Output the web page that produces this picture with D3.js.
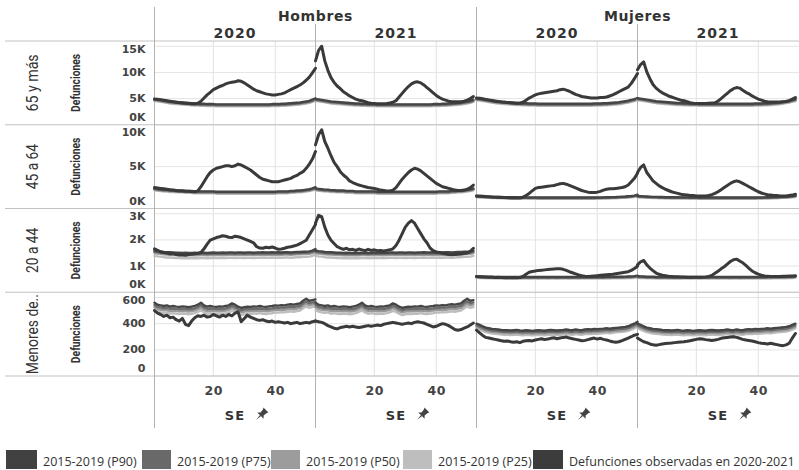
<!DOCTYPE html>
<html><head><meta charset="utf-8">
<script src="https://cdn.jsdelivr.net/npm/d3@7"></script>
<style>body{margin:0;background:#fff}svg{display:block}</style>
</head><body><svg id="c" width="799" height="470"></svg>
<script>
// ---------- categories & labels ----------
const sexes = ["Hombres","Mujeres"];
const years = ["2020","2021"];
const ageGroups = ["65 y más","45 a 64","20 a 44","Menores de.."];
const yTicks = [[0,5000,10000,15000],[0,5000,10000],[0,1000,2000,3000],[0,200,400,600]];
const yTickLabels = [["0K","5K","10K","15K"],["0K","5K","10K"],["0K","1K","2K","3K"],["0","200","400","600"]];
const xTicks = [20,40];
const legendLabels = ["2015-2019 (P90)","2015-2019 (P75)","2015-2019 (P50)","2015-2019 (P25)","Defunciones observadas en 2020-2021"];

// ---------- Hombres 65 y más ----------
const obs_H65_2020 = [4900,4850,4800,4700,4600,4500,4400,4300,4200,4150,4100,4050,4000,4000,4100,4500,5100,5700,6200,6700,7000,7300,7500,7800,8000,8100,8200,8400,8300,8000,7600,7200,6800,6500,6300,6100,5900,5800,5700,5700,5800,5900,6100,6400,6700,7000,7300,7600,8000,8500,9100,9900,10800];
const obs_H65_2021 = [12200,14200,15000,12200,10400,9000,8100,7400,6900,6300,5900,5500,5200,4900,4700,4600,4400,4200,4100,4050,4000,4000,4000,4050,4150,4300,4600,5300,6000,6700,7300,7800,8100,8200,8000,7600,7100,6600,6100,5600,5200,4900,4700,4500,4400,4400,4400,4400,4500,4700,5000,5400];
const p90_H65 = [4900,4850,4750,4650,4550,4450,4400,4350,4300,4250,4200,4150,4100,4050,4050,4000,4000,3950,3950,3950,3900,3900,3900,3900,3900,3900,3900,3900,3900,3900,3900,3900,3900,3900,3900,3900,3900,3900,3950,3950,3950,4000,4000,4050,4100,4150,4200,4250,4350,4450,4550,4800,5050];
const p75_H65 = [4770,4720,4620,4520,4420,4320,4270,4220,4170,4120,4070,4020,3970,3920,3920,3870,3870,3820,3820,3820,3770,3770,3770,3770,3770,3770,3770,3770,3770,3770,3770,3770,3770,3770,3770,3770,3770,3770,3820,3820,3820,3870,3870,3920,3970,4020,4070,4120,4220,4320,4420,4620,4850];
const p50_H65 = [4650,4600,4500,4400,4300,4200,4150,4100,4050,4000,3950,3900,3850,3800,3800,3750,3750,3700,3700,3700,3650,3650,3650,3650,3650,3650,3650,3650,3650,3650,3650,3650,3650,3650,3650,3650,3650,3650,3700,3700,3700,3750,3750,3800,3850,3900,3950,4000,4100,4200,4300,4500,4700];
const p25_H65 = [4520,4470,4370,4270,4170,4070,4020,3970,3920,3870,3820,3770,3720,3670,3670,3620,3620,3570,3570,3570,3520,3520,3520,3520,3520,3520,3520,3520,3520,3520,3520,3520,3520,3520,3520,3520,3520,3520,3570,3570,3570,3620,3620,3670,3720,3770,3820,3870,3970,4070,4170,4370,4570];

// ---------- Mujeres 65 y más ----------
const obs_M65_2020 = [5100,5050,4950,4850,4750,4650,4550,4450,4350,4300,4250,4200,4150,4100,4100,4300,4700,5100,5400,5700,5900,6000,6100,6200,6300,6400,6500,6700,6800,6600,6400,6100,5800,5600,5400,5300,5200,5100,5100,5100,5200,5200,5300,5500,5700,6000,6300,6600,6900,7200,7900,8800,9800];
const obs_M65_2021 = [10500,11500,12000,10100,8800,7700,7000,6500,6100,5800,5500,5300,5100,4900,4700,4600,4400,4200,4100,4050,4050,4050,4050,4100,4150,4200,4500,5000,5500,6000,6500,6900,7100,7000,6600,6200,5900,5500,5200,4900,4700,4500,4400,4350,4350,4350,4350,4400,4450,4600,4900,5200];
const p90_M65 = [5050,5000,4900,4800,4700,4600,4500,4450,4400,4350,4300,4250,4200,4150,4150,4100,4100,4050,4050,4050,4000,4000,4000,4000,4000,4000,4000,4000,4000,4000,4000,4000,4000,4000,4000,4000,4000,4000,4050,4050,4050,4100,4100,4150,4200,4250,4300,4400,4500,4600,4750,4900,5100];
const p75_M65 = [4920,4870,4770,4670,4570,4470,4370,4320,4270,4220,4170,4120,4070,4020,4020,3970,3970,3920,3920,3920,3870,3870,3870,3870,3870,3870,3870,3870,3870,3870,3870,3870,3870,3870,3870,3870,3870,3870,3920,3920,3920,3970,3970,4020,4070,4120,4170,4270,4370,4470,4620,4770,4970];
const p50_M65 = [4800,4750,4650,4550,4450,4350,4250,4200,4150,4100,4050,4000,3950,3900,3900,3850,3850,3800,3800,3800,3750,3750,3750,3750,3750,3750,3750,3750,3750,3750,3750,3750,3750,3750,3750,3750,3750,3750,3800,3800,3800,3850,3850,3900,3950,4000,4050,4150,4250,4350,4500,4650,4850];
const p25_M65 = [4670,4620,4520,4420,4320,4220,4120,4070,4020,3970,3920,3870,3820,3770,3770,3720,3720,3670,3670,3670,3620,3620,3620,3620,3620,3620,3620,3620,3620,3620,3620,3620,3620,3620,3620,3620,3620,3620,3670,3670,3670,3720,3720,3770,3820,3870,3920,4020,4120,4220,4370,4520,4720];

// ---------- Hombres 45 a 64 ----------
const obs_H45_2020 = [2500,2450,2400,2350,2300,2250,2200,2150,2100,2100,2050,2050,2000,2000,2100,2600,3200,3800,4300,4600,4800,4900,5000,5100,5100,5000,5100,5300,5200,5000,4800,4600,4300,4000,3700,3500,3400,3300,3200,3200,3200,3300,3400,3500,3600,3800,3950,4200,4400,4800,5300,5900,6800];
const obs_H45_2021 = [7600,8800,9400,8000,7200,6300,5500,5000,4400,4000,3700,3300,3100,2950,2800,2700,2600,2500,2450,2400,2300,2200,2150,2100,2100,2200,2500,3000,3500,3900,4300,4600,4800,4700,4500,4200,3900,3600,3300,3000,2800,2600,2500,2400,2300,2200,2150,2150,2200,2300,2500,2800];
const p90_H45 = [2400,2350,2300,2250,2250,2200,2200,2150,2150,2150,2100,2100,2100,2050,2050,2050,2050,2050,2050,2050,2000,2000,2000,2000,2000,2000,2000,2000,2000,2000,2000,2000,2000,2000,2000,2000,2000,2000,2000,2000,2050,2050,2050,2050,2100,2100,2150,2150,2200,2250,2300,2400,2550];
const p75_H45 = [2320,2270,2220,2170,2170,2120,2120,2070,2070,2070,2020,2020,2020,1970,1970,1970,1970,1970,1970,1970,1920,1920,1920,1920,1920,1920,1920,1920,1920,1920,1920,1920,1920,1920,1920,1920,1920,1920,1920,1920,1970,1970,1970,1970,2020,2020,2070,2070,2120,2170,2220,2320,2470];
const p50_H45 = [2250,2200,2150,2100,2100,2050,2050,2000,2000,2000,1950,1950,1950,1900,1900,1900,1900,1900,1900,1900,1850,1850,1850,1850,1850,1850,1850,1850,1850,1850,1850,1850,1850,1850,1850,1850,1850,1850,1850,1850,1900,1900,1900,1900,1950,1950,2000,2000,2050,2100,2150,2250,2400];
const p25_H45 = [2170,2120,2070,2020,2020,1970,1970,1920,1920,1920,1870,1870,1870,1820,1820,1820,1820,1820,1820,1820,1770,1770,1770,1770,1770,1770,1770,1770,1770,1770,1770,1770,1770,1770,1770,1770,1770,1770,1770,1770,1820,1820,1820,1820,1870,1870,1920,1920,1970,2020,2070,2170,2320];

// ---------- Mujeres 45 a 64 ----------
const obs_M45_2020 = [1500,1480,1450,1420,1400,1380,1350,1330,1300,1300,1280,1260,1250,1250,1250,1350,1550,1800,2100,2400,2500,2550,2600,2650,2700,2750,2850,2950,3000,2900,2750,2600,2450,2300,2150,2050,1950,1900,1900,1950,2050,2200,2300,2350,2350,2400,2450,2500,2600,2800,3200,3600,4200];
const obs_M45_2021 = [4300,4900,5200,4300,3800,3300,3000,2700,2500,2300,2150,2000,1900,1800,1700,1650,1600,1550,1550,1500,1500,1500,1500,1550,1650,1800,2000,2250,2500,2750,3000,3200,3300,3200,3000,2800,2600,2400,2200,2000,1850,1750,1650,1600,1550,1550,1500,1500,1500,1550,1600,1700];
const p90_M45 = [1490,1470,1450,1430,1410,1390,1390,1370,1370,1350,1350,1340,1340,1340,1330,1330,1330,1320,1320,1320,1310,1310,1310,1310,1310,1310,1310,1310,1310,1310,1310,1310,1310,1310,1310,1310,1310,1310,1310,1320,1320,1330,1340,1350,1360,1370,1390,1410,1430,1460,1490,1540,1640];
const p75_M45 = [1440,1420,1400,1380,1360,1340,1340,1320,1320,1300,1300,1290,1290,1290,1280,1280,1280,1270,1270,1270,1260,1260,1260,1260,1260,1260,1260,1260,1260,1260,1260,1260,1260,1260,1260,1260,1260,1260,1260,1270,1270,1280,1290,1300,1310,1320,1340,1360,1380,1410,1440,1490,1590];
const p50_M45 = [1400,1380,1360,1340,1320,1300,1300,1280,1280,1260,1260,1250,1250,1250,1240,1240,1240,1230,1230,1230,1220,1220,1220,1220,1220,1220,1220,1220,1220,1220,1220,1220,1220,1220,1220,1220,1220,1220,1220,1230,1230,1240,1250,1260,1270,1280,1300,1320,1340,1370,1400,1450,1550];
const p25_M45 = [1350,1330,1310,1290,1270,1250,1250,1230,1230,1210,1210,1200,1200,1200,1190,1190,1190,1180,1180,1180,1170,1170,1170,1170,1170,1170,1170,1170,1170,1170,1170,1170,1170,1170,1170,1170,1170,1170,1170,1180,1180,1190,1200,1210,1220,1230,1250,1270,1290,1320,1350,1400,1500];

// ---------- Hombres 20 a 44 ----------
const obs_H20_2020 = [1660,1600,1540,1520,1500,1460,1480,1440,1420,1430,1410,1440,1450,1470,1490,1520,1660,1840,1990,2040,2090,2120,2160,2140,2100,2090,2140,2120,2090,2040,1990,1940,1890,1740,1690,1680,1720,1700,1730,1690,1640,1650,1680,1720,1740,1770,1800,1860,1920,1990,2190,2390,2590];
const obs_H20_2021 = [2640,2940,2890,2490,2190,1990,1860,1740,1690,1640,1680,1620,1640,1600,1650,1620,1590,1640,1600,1620,1590,1600,1580,1600,1620,1660,1790,1990,2240,2490,2640,2740,2640,2440,2240,2040,1890,1690,1590,1540,1520,1490,1460,1440,1430,1440,1450,1460,1480,1500,1560,1680];
const p90_H20 = [1590,1570,1560,1540,1530,1530,1520,1510,1510,1500,1510,1500,1500,1510,1500,1510,1510,1500,1510,1520,1510,1510,1520,1510,1520,1520,1510,1520,1520,1510,1520,1520,1510,1520,1520,1530,1520,1520,1530,1520,1530,1520,1530,1530,1520,1530,1540,1540,1550,1550,1560,1590,1650];
const p75_H20 = [1545,1525,1515,1495,1485,1485,1475,1465,1465,1455,1465,1455,1455,1465,1455,1465,1465,1455,1465,1475,1465,1465,1475,1465,1475,1475,1465,1475,1475,1465,1475,1475,1465,1475,1475,1485,1475,1475,1485,1475,1485,1475,1485,1485,1475,1485,1495,1495,1505,1505,1515,1545,1605];
const p50_H20 = [1500,1480,1470,1450,1440,1440,1430,1420,1420,1410,1420,1410,1410,1420,1410,1420,1420,1410,1420,1430,1420,1420,1430,1420,1430,1430,1420,1430,1430,1420,1430,1430,1420,1430,1430,1440,1430,1430,1440,1430,1440,1430,1440,1440,1430,1440,1450,1450,1460,1460,1470,1500,1560];
const p25_H20 = [1390,1370,1360,1340,1330,1330,1320,1310,1310,1300,1310,1300,1300,1310,1300,1310,1310,1300,1310,1320,1310,1310,1320,1310,1320,1320,1310,1320,1320,1310,1320,1320,1310,1320,1320,1330,1320,1320,1330,1320,1330,1320,1330,1330,1320,1330,1340,1340,1350,1350,1360,1390,1450];

// ---------- Mujeres 20 a 44 ----------
const obs_M20_2020 = [600,590,580,585,575,575,565,570,565,555,560,555,565,555,565,600,690,765,795,815,835,845,855,865,875,885,895,895,875,835,785,745,705,665,635,615,605,615,625,635,645,655,665,675,685,705,725,745,765,785,835,905,995];
const obs_M20_2021 = [1045,1165,1215,1045,925,825,735,685,655,635,615,605,595,595,585,585,575,575,575,575,575,575,585,605,645,725,805,895,975,1075,1175,1245,1265,1195,1125,1025,915,815,745,695,655,625,615,605,605,605,605,615,615,625,625,635];
const p90_M20 = [610,605,600,595,590,590,585,585,583,585,580,583,580,585,580,583,585,580,583,585,580,585,583,580,585,583,580,585,583,585,580,583,585,580,583,585,583,585,587,585,587,585,590,587,590,590,593,595,597,600,605,615,635];
const p75_M20 = [590,585,580,575,570,570,565,565,563,565,560,563,560,565,560,563,565,560,563,565,560,565,563,560,565,563,560,565,563,565,560,563,565,560,563,565,563,565,567,565,567,565,570,567,570,570,573,575,577,580,585,595,615];
const p50_M20 = [575,570,565,560,555,555,550,550,548,550,545,548,545,550,545,548,550,545,548,550,545,550,548,545,550,548,545,550,548,550,545,548,550,545,548,550,548,550,552,550,552,550,555,552,555,555,558,560,562,565,570,580,600];
const p25_M20 = [550,545,540,535,530,530,525,525,523,525,520,523,520,525,520,523,525,520,523,525,520,525,523,520,525,523,520,525,523,525,520,523,525,520,523,525,523,525,527,525,527,525,530,527,530,530,533,535,537,540,545,555,575];

// ---------- Hombres menores de 20 ----------
const obs_H0_2020 = [500,480,470,455,465,445,450,430,420,440,395,385,420,445,460,455,465,450,455,470,460,450,465,455,470,460,480,490,415,440,465,450,440,430,425,430,420,415,420,410,415,410,405,410,400,405,410,400,405,410,405,415,420];
const obs_H0_2021 = [420,415,410,400,385,375,365,360,370,375,380,375,380,375,370,375,380,385,380,385,390,385,395,400,405,410,405,400,395,400,405,400,410,415,410,405,395,385,375,380,390,400,395,385,370,355,350,355,365,375,390,405];
const p90_H0 = [560,545,540,535,540,530,535,530,528,532,530,525,530,535,545,560,540,530,535,530,528,532,530,535,540,555,545,530,520,525,530,528,532,530,535,530,528,532,535,540,538,542,540,545,548,545,550,555,575,590,575,580,585];
const p75_H0 = [542,528,522,518,520,514,516,512,510,514,512,508,512,516,526,540,522,512,516,512,510,514,512,516,522,536,526,512,502,508,512,510,514,512,516,512,510,514,516,520,520,524,522,526,530,526,532,536,556,570,556,562,566];
const p50_H0 = [526,512,506,502,506,496,500,496,494,498,496,492,496,500,510,522,506,496,500,496,494,498,496,500,506,518,510,496,486,492,496,494,498,496,500,496,494,498,500,504,504,508,506,510,514,510,516,520,538,552,540,546,550];
const p25_H0 = [506,492,486,482,486,476,480,476,474,478,476,472,476,480,490,502,486,476,480,476,474,478,476,480,486,498,490,476,466,472,476,474,478,476,480,476,474,478,480,484,484,488,486,490,494,490,496,500,518,532,520,526,530];

// ---------- Mujeres menores de 20 ----------
const obs_M0_2020 = [350,330,310,295,290,285,280,275,270,265,268,262,258,262,255,265,270,272,268,275,280,285,278,282,288,292,285,290,295,298,290,285,280,275,270,272,278,285,290,282,288,280,275,268,262,258,262,270,280,290,300,312,318];
const obs_M0_2021 = [290,275,262,255,245,238,235,240,245,248,250,252,255,258,260,262,265,270,275,280,285,282,278,275,272,275,280,288,292,295,298,300,295,288,280,275,272,268,262,255,250,248,245,250,245,240,235,232,238,250,290,325];
const p90_M0 = [400,390,380,370,365,360,358,355,352,350,350,348,350,352,348,346,350,348,345,348,350,348,346,350,352,350,348,350,352,355,352,350,355,352,350,355,358,355,360,358,360,362,365,362,365,368,370,372,375,380,390,400,415];
const p75_M0 = [388,378,368,358,353,348,346,343,340,338,338,336,338,340,336,334,338,336,333,336,338,336,334,338,340,338,336,338,340,343,340,338,343,340,338,343,346,343,348,346,348,350,353,350,353,356,358,360,363,368,378,388,403];
const p50_M0 = [378,368,358,348,343,338,336,333,330,328,328,326,328,330,326,324,328,326,323,326,328,326,324,328,330,328,326,328,330,333,330,328,333,330,328,333,336,333,338,336,338,340,343,340,343,346,348,350,353,358,368,378,393];
const p25_M0 = [365,355,345,335,330,325,323,320,317,315,315,313,315,317,313,311,315,313,310,313,315,313,311,315,317,315,313,315,317,320,317,315,320,317,315,320,323,320,325,323,325,327,330,327,330,333,335,337,340,345,355,365,380];

// ---------- assembly ----------
const panels = [
  [{obs:[obs_H65_2020,obs_H65_2021],pct:[p90_H65,p75_H65,p50_H65,p25_H65]},
   {obs:[obs_M65_2020,obs_M65_2021],pct:[p90_M65,p75_M65,p50_M65,p25_M65]}],
  [{obs:[obs_H45_2020,obs_H45_2021],pct:[p90_H45,p75_H45,p50_H45,p25_H45]},
   {obs:[obs_M45_2020,obs_M45_2021],pct:[p90_M45,p75_M45,p50_M45,p25_M45]}],
  [{obs:[obs_H20_2020,obs_H20_2021],pct:[p90_H20,p75_H20,p50_H20,p25_H20]},
   {obs:[obs_M20_2020,obs_M20_2021],pct:[p90_M20,p75_M20,p50_M20,p25_M20]}],
  [{obs:[obs_H0_2020,obs_H0_2021],pct:[p90_H0,p75_H0,p50_H0,p25_H0]},
   {obs:[obs_M0_2020,obs_M0_2021],pct:[p90_M0,p75_M0,p50_M0,p25_M0]}]
];

// ---------- layout / style ----------
const svg = d3.select("#c");
const LEFT = 154.5, PANE_W = 161, TOP = 41, ROW_H = 83.75;
const yMax = [16000,10000,3200,640];
const pctColors = ["#454545","#6c6c6c","#9a9a9a","#bdbdbd"];
const obsColor = "#3a3a3a";
const legendColors = ["#414141","#696969","#9c9c9c","#bebebe","#3c3c3c"];
const headFont = "'DejaVu Sans', Verdana, sans-serif";
const narrowFont = "Roboto, 'Noto Sans', sans-serif";
const legFont = "'Open Sans','Noto Sans',sans-serif";
const rowLabelLen = [57,45,45,80];
const nPanes = 4;
const bottomY = TOP + ROW_H*4;

const x = d3.scaleLinear().domain([1,53]).range([0, PANE_W]);
const yScales = yMax.map((m,r)=> d3.scaleLinear().domain([0,m]).range([TOP+ROW_H*(r+1), TOP+ROW_H*r]));

// grid lines
const grid = svg.append("g");
yScales.forEach((y,r)=>{
  yTicks[r].forEach(t=>{
    grid.append("line").attr("x1",LEFT).attr("x2",799).attr("y1",y(t)).attr("y2",y(t))
      .attr("stroke","#e4e4e4").attr("stroke-width",1);
  });
});
for(let p=0;p<nPanes;p++){
  xTicks.forEach(t=>{
    const xx = LEFT + p*PANE_W + x(t);
    grid.append("line").attr("x1",xx).attr("x2",xx).attr("y1",TOP).attr("y2",bottomY)
      .attr("stroke","#e2e2e2").attr("stroke-width",1);
  });
}

// row borders
for(let r=0;r<=4;r++){
  const yy = TOP + ROW_H*r;
  svg.append("line").attr("x1",5).attr("x2",799).attr("y1",yy).attr("y2",yy)
    .attr("stroke","#c2c2c2").attr("stroke-width",1);
}
// pane dividers
for(let p=0;p<nPanes;p++){
  const xx = LEFT + p*PANE_W;
  svg.append("line").attr("x1",xx).attr("x2",xx).attr("y1", p%2===0?7:24).attr("y2",428)
    .attr("stroke","#b2b2b2").attr("stroke-width",1);
}

// lines
const linesG = svg.append("g");
panels.forEach((rowPanels,r)=>{
  const y = yScales[r];
  const line = d3.line().x((d,i)=>x(i+1)).y(d=>y(d)).curve(d3.curveLinear);
  rowPanels.forEach((pan,s)=>{
    years.forEach((yr,yi)=>{
      const p = s*2+yi;
      const g = linesG.append("g").attr("transform",`translate(${LEFT+p*PANE_W},0)`);
      const n = pan.obs[yi].length;
      for(let k=3;k>=0;k--){
        g.append("path").datum(pan.pct[k].slice(0,n)).attr("d",line)
          .attr("fill","none").attr("stroke",pctColors[k]).attr("stroke-width",2.4)
          .attr("stroke-linejoin","round").attr("stroke-linecap","round");
      }
      g.append("path").datum(pan.obs[yi]).attr("d",line)
        .attr("fill","none").attr("stroke",obsColor).attr("stroke-width",3)
        .attr("stroke-linejoin","round").attr("stroke-linecap","round");
    });
  });
});

// y axes
yScales.forEach((y,r)=>{
  const g = svg.append("g").attr("transform",`translate(${LEFT},0)`)
    .call(d3.axisLeft(y).tickValues(yTicks[r]).tickFormat((d,i)=>yTickLabels[r][i]).tickSize(0).tickPadding(9));
  g.select(".domain").remove();
  const rt = TOP+ROW_H*r, rb = TOP+ROW_H*(r+1);
  g.selectAll(".tick").attr("transform", d=>`translate(0,${Math.max(rt+8, Math.min(rb-7.5, y(d)))})`);
  g.selectAll("text").attr("font-family",headFont).attr("font-weight","bold")
    .attr("font-size",11).attr("fill","#444");
  const cy = (rt+rb)/2;
  svg.append("text").attr("transform",`translate(80,${cy}) rotate(-90)`)
    .attr("text-anchor","middle").attr("font-family",narrowFont).attr("font-weight","bold")
    .attr("font-size",12).attr("fill","#333")
    .attr("textLength",58).attr("lengthAdjust","spacingAndGlyphs").text("Defunciones");
  svg.append("text").attr("transform",`translate(37.5,${cy}) rotate(-90)`)
    .attr("text-anchor","middle").attr("font-family",narrowFont).attr("font-weight",400)
    .attr("font-size",17).attr("fill","#333")
    .attr("textLength",rowLabelLen[r]).attr("lengthAdjust","spacingAndGlyphs").text(ageGroups[r]);
});

// x axes
for(let p=0;p<nPanes;p++){
  const x0 = LEFT + p*PANE_W;
  const g = svg.append("g").attr("transform",`translate(${x0},${bottomY})`)
    .call(d3.axisBottom(x).tickValues(xTicks).tickSize(0).tickPadding(10.5));
  g.select(".domain").remove();
  g.selectAll("text").attr("font-family",headFont).attr("font-weight","bold")
    .attr("font-size",12.5).attr("fill","#444").attr("letter-spacing",0.6);
  const cx = x0 + PANE_W/2;
  svg.append("text").attr("x",cx).attr("y",420).attr("text-anchor","middle")
    .attr("font-family",headFont).attr("font-weight","bold").attr("font-size",13)
    .attr("letter-spacing",1.2).attr("fill","#333").text("SE");
  svg.append("path").attr("transform",`translate(${cx+26},415) rotate(45)`)
    .attr("d","M-3.5,-7 L3.5,-7 L2.6,-5.5 L2.2,-1.5 L4.5,0.8 L-4.5,0.8 L-2.2,-1.5 L-2.6,-5.5 Z M-0.7,0.8 L0,7 L0.7,0.8 Z")
    .attr("fill","#444");
}

// headers
sexes.forEach((s,si)=>{
  svg.append("text").attr("x",LEFT + (si*2+1)*PANE_W).attr("y",20.5).attr("text-anchor","middle")
    .attr("font-family",headFont).attr("font-weight","bold").attr("font-size",14)
    .attr("letter-spacing",0.6).attr("fill","#333").text(s);
  years.forEach((yr,yi)=>{
    svg.append("text").attr("x",LEFT + (si*2+yi+0.5)*PANE_W).attr("y",37.5).attr("text-anchor","middle")
      .attr("font-family",headFont).attr("font-weight","bold").attr("font-size",14)
      .attr("letter-spacing",1).attr("fill","#333").text(yr);
  });
});

// legend
const legX = [6,142,271,403,533];
const legW = [31,29,29,29,30];
legendLabels.forEach((l,i)=>{
  svg.append("rect").attr("x",legX[i]).attr("y",450).attr("width",legW[i]).attr("height",19)
    .attr("fill",legendColors[i]);
  svg.append("text").attr("x",legX[i]+legW[i]+6).attr("y",465.5)
    .attr("font-family",legFont).attr("font-size",12.5).attr("fill","#333").text(l);
});
</script>
</body></html>
